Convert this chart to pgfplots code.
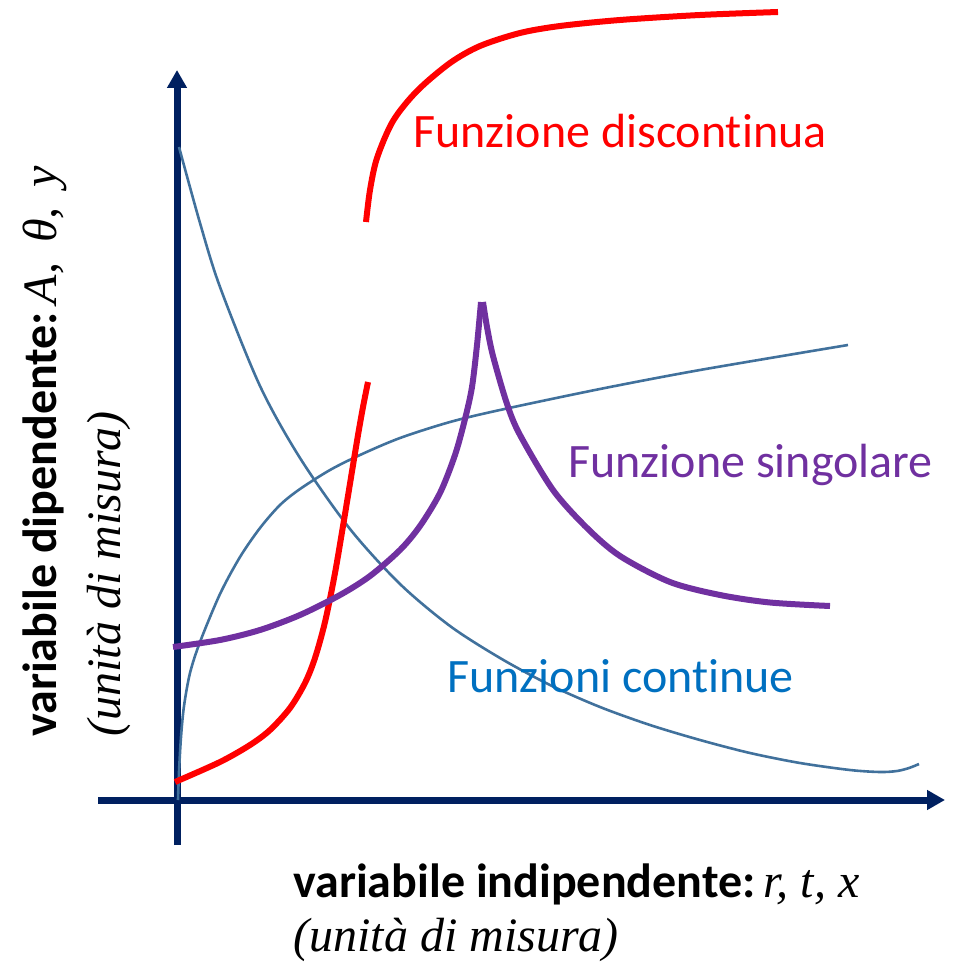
\documentclass[border=0pt]{standalone}
\usepackage{pgfplots}
\pgfplotsset{compat=1.18}
\usepackage{fontspec}
\setmainfont[Ligatures=NoCommon]{Carlito}
\newfontfamily\serif{Liberation Serif}
\usetikzlibrary{arrows.meta}
\definecolor{navy}{HTML}{002060}
\definecolor{cblue}{HTML}{41719C}
\definecolor{lblue}{HTML}{0070C0}
\definecolor{cpurple}{HTML}{7030A0}
\definecolor{cred}{HTML}{FF0000}
\begin{document}
\begin{tikzpicture}
\begin{axis}[width=480.5pt, height=483.5pt, scale only axis,
  xmin=0, xmax=961, ymin=0, ymax=967, y dir=reverse,
  axis lines=none, clip=false]
\path (rel axis cs:0,0) rectangle (rel axis cs:1,1);
% axes
\addplot[navy, line width=3.5pt, -{Triangle[length=9pt,width=9.5pt]}] coordinates {(177,845) (177,70)};
\addplot[navy, line width=3.5pt, -{Triangle[length=9pt,width=9.5pt]}] coordinates {(98,800) (945,800)};
% decreasing continuous
\addplot[cblue, line width=1.3pt, smooth] coordinates {
(179,147) (200,223) (220,287) (260,386) (300,458) (350,529) (400,584) (450,626)
(500,658) (550,685) (600,707) (650,725) (700,740) (750,753) (800,763) (850,770)
(880,772) (897,771) (909,768) (919,764)};
% increasing continuous
\addplot[cblue, line width=1.3pt, smooth] coordinates {
(178,800) (179,772) (181,737) (184,706) (190,673) (200,642) (220,594) (240,557)
(260,528) (280,505) (300,489) (330,470) (360,455) (400,438) (450,422) (500,410)
(600,389) (700,370) (848,345)};
% discontinuous
\addplot[cred, line width=3pt, smooth] coordinates {
(175,782) (220,762) (250,745) (270,730) (290,708) (305,683) (315,658) (325,622)
(335,573) (345,514) (357,441) (363,407) (368,382)};
\addplot[cred, line width=3pt, smooth] coordinates {
(366,222) (370,190) (377,158) (393,121) (417,91) (450,63) (480,46) (520,33)
(560,26) (620,20) (700,15) (778,12)};
% singular
\addplot[cpurple, line width=3pt, smooth] coordinates {
(173,647) (220,640) (260,630) (300,615) (340,595) (370,576) (400,550) (420,526)
(440,493) (455,455) (465,419) (472,387) (477,345) (481,302)};
\addplot[cpurple, line width=3pt, smooth] coordinates {
(483,302) (487,327) (493,356) (507,404) (520,435) (553,490) (587,528) (620,556)
(670,582) (720,595) (770,602.5) (830,606)};
% labels
\node[anchor=base west, inner sep=0pt, text=cred, font=\fontsize{24}{28}\selectfont] at (axis cs:413,148) {Funzione discontinua};
\node[anchor=base west, inner sep=0pt, text=cpurple, font=\fontsize{24}{28}\selectfont] at (axis cs:568,477) {Funzione singolare};
\node[anchor=base west, inner sep=0pt, text=lblue, font=\fontsize{24}{28}\selectfont] at (axis cs:447,692) {Funzioni continue};
\node[anchor=base west, inner sep=0pt, font=\fontsize{24}{28}\selectfont] at (axis cs:293,897) {\textbf{variabile indipendente:}\,{\serif\itshape r, t, x}};
\node[anchor=base west, inner sep=0pt, font=\fontsize{24}{28}\selectfont] at (axis cs:293,951) {\serif\itshape (unità di misura)};
\node[anchor=base west, inner sep=0pt, rotate=90, font=\fontsize{24}{28}\selectfont] at (axis cs:56,737) {\textbf{variabile dipendente:}\,{\serif\itshape A,\, θ,\, y}};
\node[anchor=base west, inner sep=0pt, rotate=90, font=\fontsize{24}{28}\selectfont] at (axis cs:120,737) {\serif\itshape (unità di misura)};
\end{axis}
\end{tikzpicture}
\end{document}
